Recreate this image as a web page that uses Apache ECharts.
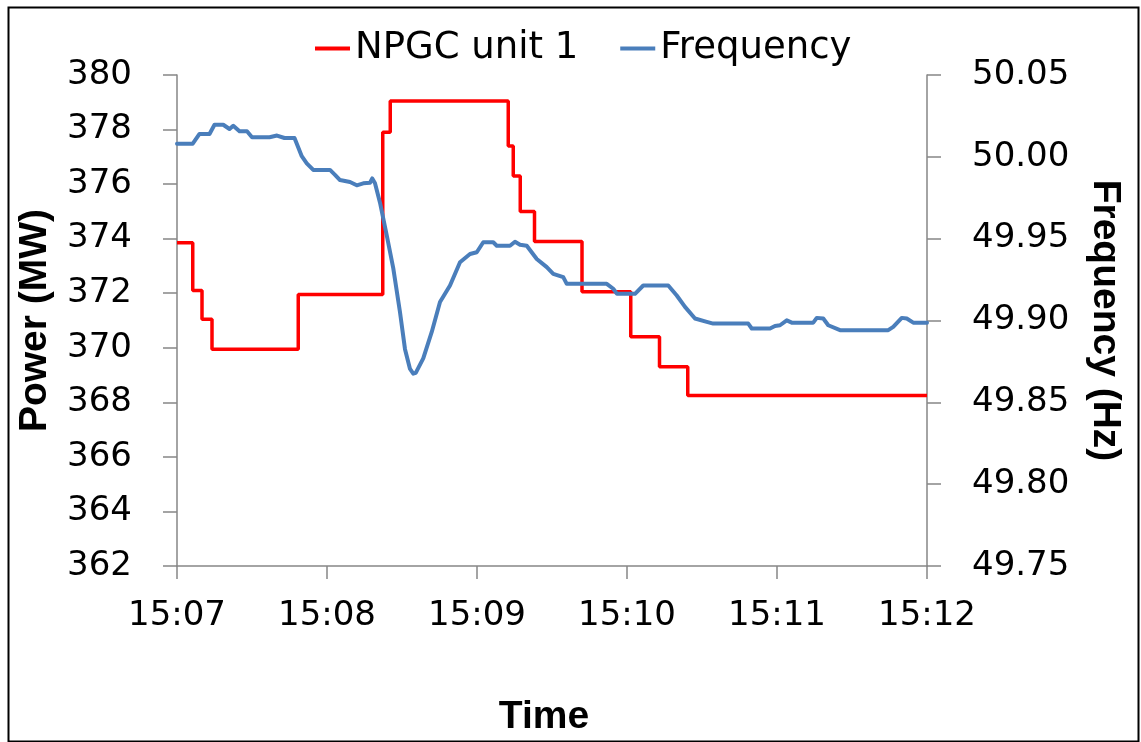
<!DOCTYPE html>
<html>
<head>
<meta charset="utf-8">
<script src="https://cdn.jsdelivr.net/npm/echarts@6/dist/echarts.min.js"></script>
<style>
html,body{margin:0;padding:0;background:#fff;}
#chart{width:1141px;height:742px;}
</style>
</head>
<body>
<div id="chart"></div>
<script>
// Time in seconds after 15:07
const timeLabels = ["15:07", "15:08", "15:09", "15:10", "15:11", "15:12"];
const powerTimes = [0, 6.3, 10, 14, 48.5, 82.3, 85.3, 132.5, 134.5, 137.3, 143, 162, 181.5, 193, 204.3, 300];
const powerValues = [373.85, 372.1, 371.05, 369.95, 371.95, 377.9, 379.05, 377.4, 376.3, 375.0, 373.9, 372.05, 370.4, 369.3, 368.25, 368.25];
const freqTimes = [0, 6.3, 9, 13, 15, 18.5, 21, 22.5, 25, 28, 30, 37, 40, 43, 47, 49.9, 51.9, 54.5, 61.2, 63.2, 65.2, 69.2, 71.9, 74.5, 77.2, 78.1, 79.2, 81.2, 83.9, 86.5, 89.2, 91.2, 93.2, 94.5, 95.5, 98.5, 101.9, 105.2, 109.2, 113.2, 117.2, 119.9, 122.5, 126.5, 127.9, 133.2, 135.2, 137.2, 139.9, 143.9, 147.9, 150.5, 154.5, 155.9, 171.9, 174.5, 176, 183.2, 186.5, 196.5, 199.9, 203.2, 207.2, 211.9, 214.5, 228.5, 229.9, 237.2, 239.2, 241.2, 243.9, 245.9, 254.5, 255.9, 258.5, 260.5, 265.2, 284.5, 286.5, 289.9, 291.9, 294.5, 300];
const freqValues = [50.008, 50.008, 50.014, 50.014, 50.0196, 50.0196, 50.017, 50.019, 50.0156, 50.0156, 50.012, 50.012, 50.013, 50.0115, 50.0115, 50.0004, 49.996, 49.992, 49.992, 49.989, 49.9858, 49.9846, 49.9826, 49.9838, 49.9842, 49.9868, 49.9838, 49.972, 49.952, 49.932, 49.905, 49.8825, 49.8704, 49.8675, 49.868, 49.8769, 49.893, 49.9113, 49.9214, 49.9356, 49.9406, 49.9417, 49.9478, 49.9478, 49.9457, 49.9457, 49.9481, 49.9463, 49.9457, 49.9376, 49.9326, 49.9285, 49.9265, 49.9224, 49.9224, 49.9194, 49.9163, 49.9163, 49.9214, 49.9214, 49.9153, 49.9083, 49.9012, 49.8992, 49.8981, 49.8981, 49.8951, 49.8951, 49.8967, 49.8971, 49.9001, 49.8987, 49.8987, 49.9016, 49.9012, 49.8971, 49.8941, 49.8941, 49.8961, 49.9016, 49.9012, 49.8987, 49.8987];

const powerData = powerTimes.map((t, i) => [t, powerValues[i]]);
const freqData = freqTimes.map((t, i) => [t, freqValues[i]]);

const chart = echarts.init(document.getElementById('chart'), null, {renderer: 'canvas'});
const axisColor = '#868686';
const labelFont = {fontFamily: 'DejaVu Sans', fontSize: 34, color: '#000'};
const nameFont = {fontFamily: 'Liberation Sans', fontWeight: 'bold', fontSize: 39, color: '#000'};

chart.setOption({
  backgroundColor: '#fff',
  animation: false,
  graphic: [{
    type: 'rect', left: 6, top: 5,
    shape: {width: 1130, height: 734},
    style: {fill: 'none', stroke: '#000', lineWidth: 2},
    silent: true
  }],
  legend: {
    left: 310, top: 25,
    itemWidth: 35, itemHeight: 4, itemGap: 42,
    icon: 'rect',
    textStyle: {fontFamily: 'DejaVu Sans', fontSize: 37, color: '#000'},
    data: ['NPGC unit 1', 'Frequency']
  },
  grid: {left: 177, right: 214, top: 75, bottom: 173, containLabel: false},
  xAxis: {
    type: 'value', min: 0, max: 300, interval: 60,
    name: 'Time', nameLocation: 'middle', nameGap: 132,
    nameTextStyle: Object.assign({}, nameFont, {padding: [0, 16, 0, 0]}),
    axisLine: {show: true, lineStyle: {color: axisColor, width: 1.5}},
    axisTick: {show: true, inside: false, length: 13, lineStyle: {color: axisColor, width: 1.5}},
    axisLabel: Object.assign({}, labelFont, {margin: 33, formatter: v => timeLabels[Math.round(v / 60)] || ''}),
    splitLine: {show: false}
  },
  yAxis: [{
    type: 'value', min: 362, max: 380, interval: 2,
    name: 'Power (MW)', nameLocation: 'middle', nameGap: 122, nameRotate: 90,
    nameTextStyle: nameFont,
    axisLine: {show: true, lineStyle: {color: axisColor, width: 1.5}},
    axisTick: {show: true, inside: false, length: 14, lineStyle: {color: axisColor, width: 1.5}},
    axisLabel: Object.assign({}, labelFont, {margin: 45}),
    splitLine: {show: false}
  }, {
    type: 'value', min: 49.75, max: 50.05, interval: 0.05, position: 'right',
    name: 'Frequency (Hz)', nameLocation: 'middle', nameGap: 158, nameRotate: -90,
    nameTextStyle: nameFont,
    axisLine: {show: true, lineStyle: {color: axisColor, width: 1.5}},
    axisTick: {show: true, inside: false, length: 14, lineStyle: {color: axisColor, width: 1.5}},
    axisLabel: Object.assign({}, labelFont, {margin: 45, formatter: v => v.toFixed(2)}),
    splitLine: {show: false}
  }],
  series: [{
    name: 'NPGC unit 1', type: 'line', step: 'end', yAxisIndex: 0,
    data: powerData, symbol: 'none',
    itemStyle: {color: '#FF0000'},
    lineStyle: {color: '#FF0000', width: 3.5}
  }, {
    name: 'Frequency', type: 'line', yAxisIndex: 1,
    data: freqData, symbol: 'none',
    itemStyle: {color: '#4A7EBB'},
    lineStyle: {color: '#4A7EBB', width: 4, join: 'round', cap: 'round'}
  }]
});
</script>
</body>
</html>
